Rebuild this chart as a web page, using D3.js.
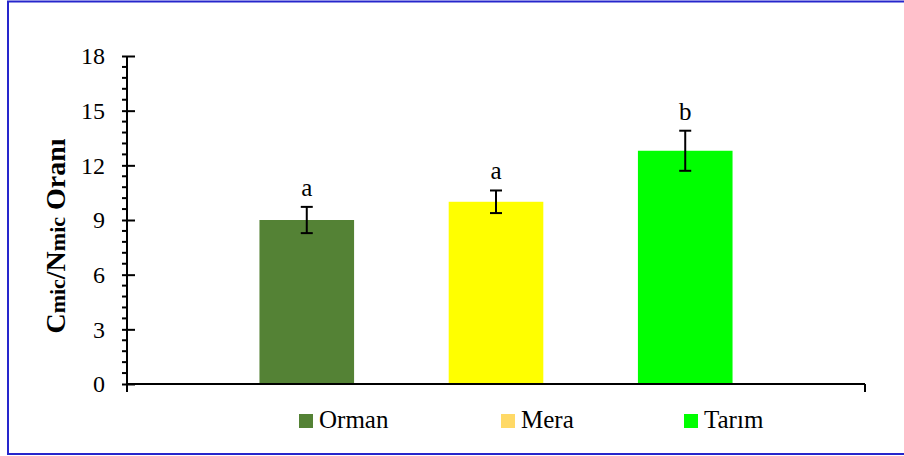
<!DOCTYPE html>
<html>
<head>
<meta charset="utf-8">
<script src="https://cdn.jsdelivr.net/npm/d3@7/dist/d3.min.js"></script>
<style>
  html, body { margin: 0; padding: 0; background: #fff; }
  svg { display: block; }
</style>
</head>
<body>
<svg id="chart" width="904" height="456"></svg>
<script>
// Soil microbial C/N ratio by land use
const landUses = ["Orman", "Mera", "Tarım"];
const ratios = [9.0, 10.0, 12.8];
const errors = [0.72, 0.62, 1.1];
const groupLetters = ["a", "a", "b"];
const barColors = ["#548235", "#FFFF00", "#00FF00"];
const legendColors = ["#548235", "#FFD966", "#00FF00"];
const yTicks = [0, 3, 6, 9, 12, 15, 18];

const SERIF = "'Liberation Serif'";
const svg = d3.select("#chart");

// outer frame
svg.append("rect")
  .attr("x", 8).attr("y", 1.5)
  .attr("width", 900).attr("height", 452.5)
  .attr("fill", "none")
  .attr("stroke", "#2626CC")
  .attr("stroke-width", 2);

const plot = { left: 127, right: 865, top: 56, bottom: 384 };

const y = d3.scaleLinear().domain([0, 18]).range([plot.bottom, plot.top]);
const x = d3.scaleBand()
  .domain(landUses)
  .range([plot.left, plot.right])
  .paddingInner(0.5)
  .paddingOuter(0.7);

// bars
svg.append("g").selectAll("rect")
  .data(landUses)
  .join("rect")
  .attr("x", d => x(d))
  .attr("width", x.bandwidth())
  .attr("y", (d, i) => y(ratios[i]))
  .attr("height", (d, i) => y(0) - y(ratios[i]))
  .attr("fill", (d, i) => barColors[i]);

// error bars and group letters
const eb = svg.append("g").attr("stroke", "#000").attr("stroke-width", 2);
landUses.forEach((d, i) => {
  const cx = x(d) + x.bandwidth() / 2;
  const hi = y(ratios[i] + errors[i]);
  const lo = y(ratios[i] - errors[i]);
  eb.append("line").attr("x1", cx).attr("x2", cx).attr("y1", hi).attr("y2", lo);
  eb.append("line").attr("x1", cx - 6).attr("x2", cx + 6).attr("y1", hi).attr("y2", hi);
  eb.append("line").attr("x1", cx - 6).attr("x2", cx + 6).attr("y1", lo).attr("y2", lo);
  svg.append("text")
    .attr("x", cx)
    .attr("y", hi - 11)
    .attr("text-anchor", "middle")
    .style("font-family", SERIF)
    .style("font-size", "25px")
    .text(groupLetters[i]);
});

// y axis: major ticks crossing, minor ticks outside
const yAxis = svg.append("g").attr("transform", `translate(${plot.left},0)`);
yAxis.call(d3.axisLeft(y).tickValues(yTicks).tickSize(5).tickFormat(d3.format("d")).tickPadding(17))
  .call(g => g.select(".domain").remove())
  .attr("font-family", null);
yAxis.selectAll(".tick line").attr("x2", 8).attr("x1", -5).attr("stroke-width", 2);
yAxis.selectAll(".tick text")
  .style("font-family", SERIF)
  .style("font-size", "24px")
  .attr("fill", "#000");

const minorTicks = d3.range(0, 18.001, 0.6).filter(v => Math.abs(v / 3 - Math.round(v / 3)) > 1e-6);
yAxis.selectAll(".minor")
  .data(minorTicks)
  .join("line")
  .attr("class", "minor")
  .attr("x1", -5).attr("x2", 0)
  .attr("y1", d => y(d)).attr("y2", d => y(d))
  .attr("stroke", "#000").attr("stroke-width", 2);

yAxis.append("line")
  .attr("x1", 0).attr("x2", 0)
  .attr("y1", y(18)).attr("y2", y(0) + 8)
  .attr("stroke", "#000").attr("stroke-width", 2);

// x axis baseline with end tick
const xAxis = svg.append("g").attr("stroke", "#000").attr("stroke-width", 2);
xAxis.append("line").attr("x1", plot.left).attr("x2", plot.right).attr("y1", y(0)).attr("y2", y(0));
xAxis.append("line").attr("x1", plot.right).attr("x2", plot.right).attr("y1", y(0)).attr("y2", y(0) + 8);

// y axis title
const title = svg.append("text")
  .attr("transform", "translate(65,236) rotate(-90)")
  .attr("text-anchor", "middle")
  .style("font-family", SERIF)
  .style("font-weight", "bold")
  .style("font-size", "28px");
title.append("tspan").text("C");
title.append("tspan").style("font-size", "22px").text("mic");
title.append("tspan").text("/N");
title.append("tspan").style("font-size", "22px").text("mic");
title.append("tspan").text(" Oranı");

// legend
const legendX = [299, 501, 684];
const legend = svg.append("g");
landUses.forEach((d, i) => {
  legend.append("rect")
    .attr("x", legendX[i]).attr("y", 414)
    .attr("width", 14).attr("height", 14)
    .attr("fill", legendColors[i]);
  legend.append("text")
    .attr("x", legendX[i] + 20).attr("y", 428)
    .style("font-family", SERIF)
    .style("font-size", "25px")
    .text(d);
});
</script>
</body>
</html>
